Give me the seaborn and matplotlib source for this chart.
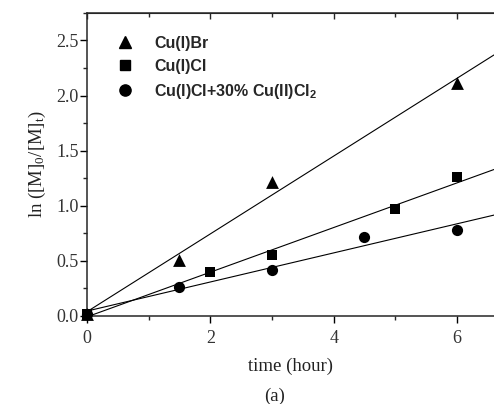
import numpy as np
import matplotlib
matplotlib.use("Agg")
import matplotlib.pyplot as plt
from matplotlib.lines import Line2D
from matplotlib.ticker import MultipleLocator
import seaborn as sns

# data
cubr_t = [0, 1.5, 3, 6]
cubr_y = [0.02, 0.51, 1.22, 2.11]
cucl_t = [0, 2, 3, 5, 6]
cucl_y = [0.02, 0.40, 0.55, 0.97, 1.26]
mix_t = [0, 1.5, 3, 4.5, 6]
mix_y = [0.02, 0.26, 0.42, 0.72, 0.78]

labels = ["Cu(I)Br", "Cu(I)Cl", r"Cu(I)Cl+30% Cu(II)Cl$_\mathbf{2}$"]
markers = ["^", "s", "o"]
msizes = [85, 55, 65]

sns.set_style("ticks")
plt.rcParams["font.family"] = ["Liberation Serif", "DejaVu Serif"]
plt.rcParams["mathtext.fontset"] = "custom"
plt.rcParams["mathtext.rm"] = "Liberation Serif"
plt.rcParams["mathtext.bf"] = "Liberation Sans:bold"
plt.rcParams["mathtext.default"] = "rm"

fig = plt.figure(figsize=(4.94, 4.04), dpi=100)
ax = fig.add_axes([0.176, 0.218, 0.824, 0.75])
ax.set_xlim(0, 6.6)
ax.set_ylim(0, 2.75)

series = [(cubr_t, cubr_y), (cucl_t, cucl_y), (mix_t, mix_y)]
for (t, y), m, ms in zip(series, markers, msizes):
    sns.regplot(x=np.array(t), y=np.array(y), ax=ax, ci=None, truncate=False,
                color="black", marker=m,
                scatter_kws={"s": ms, "alpha": 1, "linewidths": 0, "clip_on": False, "zorder": 3},
                line_kws={"lw": 0.8, "color": "black"})

ax.set_xlim(0, 6.6)
ax.set_ylim(0, 2.75)
ax.xaxis.set_major_locator(MultipleLocator(2))
ax.xaxis.set_minor_locator(MultipleLocator(1))
ax.yaxis.set_major_locator(MultipleLocator(0.5))
ax.yaxis.set_minor_locator(MultipleLocator(0.25))
ax.yaxis.set_major_formatter(matplotlib.ticker.FormatStrFormatter("%.1f"))
ax.tick_params(which="major", length=5, width=1, labelsize=13, color="black", labelcolor="#333")
ax.tick_params(axis="y", which="major", pad=1)
ax.tick_params(axis="x", which="major", pad=5)
ax.tick_params(which="minor", length=3, width=1)
ax.spines["right"].set_visible(False)
for s in ["left", "bottom", "top"]:
    ax.spines[s].set_linewidth(1.1)

top = ax.secondary_xaxis("top")
top.xaxis.set_major_locator(MultipleLocator(2))
top.xaxis.set_minor_locator(MultipleLocator(1))
top.tick_params(which="both", direction="in", labeltop=False, length=3, width=1)
top.tick_params(which="major", length=4)

ax.set_xlabel("time (hour)", fontsize=13.5, labelpad=8, color="#222")
ax.set_ylabel(r"ln ([M]$_0$/[M]$_t$)", fontsize=13.5, labelpad=6, color="#222")
fig.text(0.176 + 0.824 * (3.05 / 6.6), 0.008, "(a)", ha="center", fontsize=13.5, color="#222")

handles = [Line2D([], [], ls="none", marker=m, color="black", markersize=np.sqrt(ms))
           for m, ms in zip(markers, msizes)]
leg = ax.legend(handles, labels, loc="upper left", frameon=False,
                bbox_to_anchor=(0.02, 0.972), handletextpad=0.8, labelspacing=0.5,
                prop={"family": "Liberation Sans", "weight": "bold", "size": 11.5})

fig.savefig("out.png", dpi=100)
